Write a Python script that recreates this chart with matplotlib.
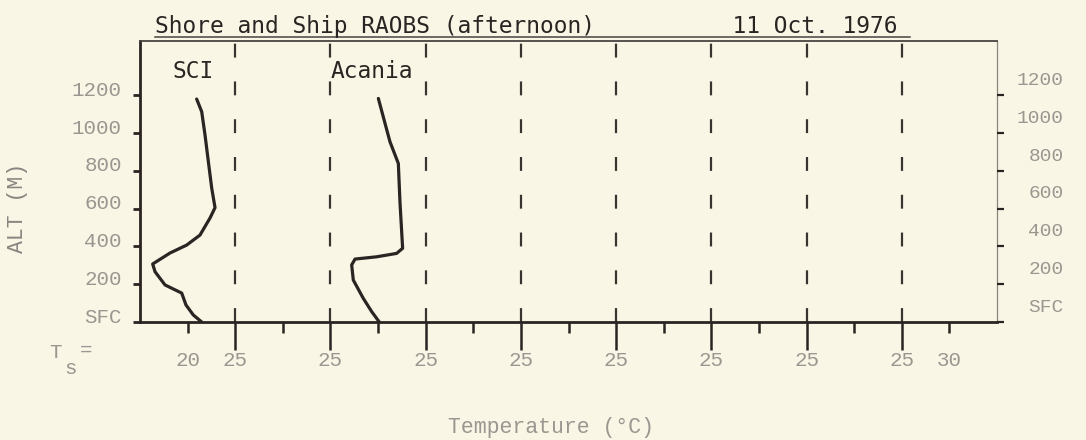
import matplotlib
matplotlib.use("Agg")
import matplotlib.pyplot as plt
import matplotlib.transforms as mtransforms
from matplotlib.lines import Line2D

# ---------------- data ----------------
sci_alt = [1180, 1113, 989, 848, 709, 605, 550, 460, 407, 365, 307, 266, 196, 153, 90, 37, 0]
sci_temp = [20.95, 21.48, 21.83, 22.18, 22.53, 22.88, 22.35, 21.30, 19.9, 18.15, 16.33, 16.58,
            17.63, 19.38, 19.83, 20.6, 21.48]

acania_alt = [1183, 954, 839, 636, 390, 363, 345, 333, 302, 222, 125, 55, 0]
acania_temp = [20.03, 21.25, 22.13, 22.30, 22.58, 21.95, 19.85, 17.58, 17.23, 17.4, 18.45,
               19.33, 20.13]
acania_offset = 20  # profile shifted 20 degC to the right on the chart

y_ticks = [0, 200, 400, 600, 800, 1000, 1200]
y_labels = ["SFC", "200", "400", "600", "800", "1000", "1200"]
x_major = [25, 35, 45, 55, 65, 75, 85, 95]
x_major_labels = ["25"] * 8
x_minor = [20, 30, 40, 50, 60, 70, 80, 90, 100]
x_minor_labels = ["20", "", "", "", "", "", "", "", "30"]

title_left = "Shore and Ship RAOBS (afternoon)"
title_right = "11 Oct. 1976"

# ---------------- style ----------------
plt.rcParams["lines.scale_dashes"] = False
BG = "#f9f6e6"
INK = "#2b2422"
GRAY = "#9a9690"
MONO = ["DejaVu Sans Mono"]
TYPE = ["Liberation Mono", "DejaVu Sans Mono"]

W, H = 1086, 440
fig = plt.figure(figsize=(W / 100, H / 100), dpi=100, facecolor=BG)
L, R, B, T = 140, 997, 322, 41
ax = fig.add_axes([L / W, 1 - B / H, (R - L) / W, (B - T) / H], facecolor=BG)

ax.set_xlim(15, 105)
ax.set_ylim(0, 1487)

# dashed reference lines
for xv in x_major:
    ax.axvline(xv, color="#3a3330", lw=1.6, dashes=(10, 17.2), zorder=1)

# profiles
ax.plot(sci_temp, sci_alt, color=INK, lw=2.3, solid_joinstyle="round",
        solid_capstyle="round", zorder=3)
ax.plot([t + acania_offset for t in acania_temp], acania_alt, color=INK, lw=2.3,
        solid_joinstyle="round", solid_capstyle="round", zorder=3)

# spines
ax.spines["left"].set_linewidth(2.0)
ax.spines["left"].set_color(INK)
ax.spines["bottom"].set_linewidth(2.0)
ax.spines["bottom"].set_color(INK)
ax.spines["top"].set_linewidth(1.3)
ax.spines["top"].set_color("#4a4340")
ax.spines["right"].set_linewidth(0.9)
ax.spines["right"].set_color("#8a847e")

# left ticks
ax.set_yticks(y_ticks, y_labels)
ax.tick_params(axis="y", direction="out", length=5, width=2.0, color=INK, pad=8,
               labelsize=15, labelcolor=GRAY)
for lab in ax.get_yticklabels():
    lab.set_fontfamily(TYPE)
    lab.set_transform(lab.get_transform() +
                      mtransforms.ScaledTranslation(0, 5 / 72, fig.dpi_scale_trans))

# bottom ticks
ax.set_xticks(x_major, x_major_labels)
ax.set_xticks(x_minor, x_minor_labels, minor=True)
ax.tick_params(axis="x", which="major", direction="out", length=20, width=1.8, color=INK,
               pad=1, labelsize=15, labelcolor=GRAY)
ax.tick_params(axis="x", which="minor", direction="out", length=8, width=1.8, color=INK,
               pad=13, labelsize=15, labelcolor=GRAY)
for lab in ax.get_xticklabels() + ax.get_xticklabels(minor=True):
    lab.set_fontfamily(TYPE)

# right axis
ax2 = ax.twinx()
ax2.set_ylim(ax.get_ylim())
for s in ax2.spines.values():
    s.set_visible(False)
ax2.set_yticks(y_ticks, y_labels)
ax2.tick_params(axis="y", direction="out", length=5, width=1.6, color=INK, pad=43,
                labelsize=14, labelcolor=GRAY)
for lab in ax2.get_yticklabels():
    lab.set_fontfamily(TYPE)
    lab.set_horizontalalignment("right")
    lab.set_transform(lab.get_transform() +
                      mtransforms.ScaledTranslation(0, 12 / 72, fig.dpi_scale_trans))

# profile names
fig.text(172 / W, 1 - 72 / H, "SCI", fontfamily=MONO, fontsize=16.5, color=INK,
         ha="left", va="center")
fig.text(331 / W, 1 - 72 / H, "Acania", fontfamily=MONO, fontsize=16.5, color=INK,
         ha="left", va="center")

# title with underline
fig.text(155 / W, 1 - 33 / H, title_left + " " * 10 + title_right, fontfamily=MONO,
         fontsize=16.5, color=INK, ha="left", va="baseline")
fig.add_artist(Line2D([155 / W, 910 / W], [1 - 37 / H, 1 - 37 / H], color="#4a4340",
                      lw=1.1, transform=fig.transFigure))

# axis titles
fig.text(18 / W, 1 - 208 / H, "ALT (M)", rotation=90, fontfamily=TYPE, fontsize=15.5,
         color="#8a8580", ha="center", va="center")
fig.text(551 / W, 1 - 427 / H, "Temperature (\u00b0C)", fontfamily=TYPE, fontsize=15.5,
         color=GRAY, ha="center", va="center")

# T_s =
fig.text(55 / W, 1 - 352 / H, "T", fontfamily=TYPE, fontsize=15, color=GRAY,
         ha="center", va="center")
fig.text(71 / W, 1 - 368 / H, "s", fontfamily=TYPE, fontsize=15, color=GRAY,
         ha="center", va="center")
fig.text(86 / W, 1 - 350 / H, "=", fontfamily=TYPE, fontsize=15, color=GRAY,
         ha="center", va="center")

fig.savefig("out.png", dpi=100, facecolor=BG)
